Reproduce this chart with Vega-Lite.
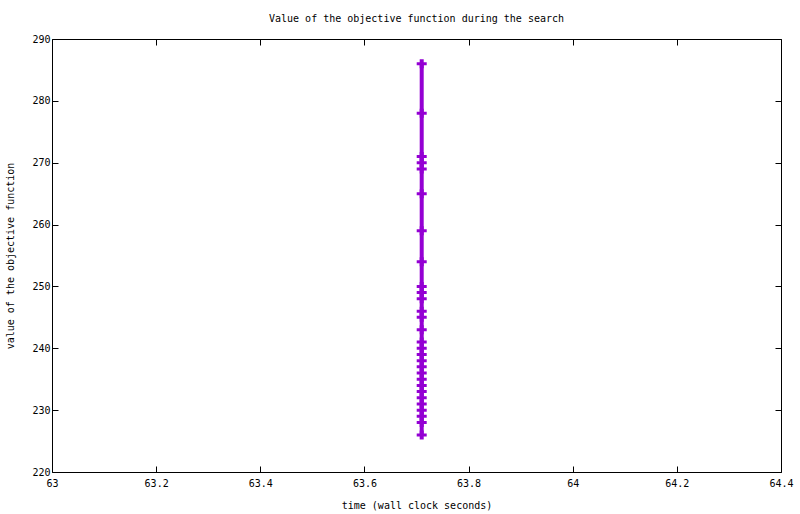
{
  "$schema": "https://vega.github.io/schema/vega-lite/v6.json",
  "width": 729,
  "height": 433,
  "autosize": "none",
  "padding": {"left": 52, "top": 39, "right": 19, "bottom": 42},
  "background": "white",
  "config": {
    "view": {"stroke": null},
    "font": "DejaVu Sans Mono",
    "axis": {
      "grid": false,
      "domainColor": "black",
      "domainWidth": 1,
      "tickColor": "black",
      "tickSize": -6,
      "tickWidth": 1,
      "labelColor": "black",
      "labelFont": "DejaVu Sans Mono",
      "labelFontSize": 10,
      "labelPadding": 8,
      "labelFlush": false,
      "titleColor": "black",
      "titleFont": "DejaVu Sans Mono",
      "titleFontSize": 10,
      "titleFontWeight": "normal"
    }
  },
  "title": {
    "text": "Value of the objective function during the search",
    "font": "DejaVu Sans Mono",
    "fontSize": 10,
    "fontWeight": "normal",
    "color": "black",
    "anchor": "middle",
    "offset": 10
  },
  "data": {
    "values": [
      {"i": 1, "time": 63.71, "value": 286},
      {"i": 2, "time": 63.71, "value": 278},
      {"i": 3, "time": 63.71, "value": 271},
      {"i": 4, "time": 63.71, "value": 270},
      {"i": 5, "time": 63.71, "value": 269},
      {"i": 6, "time": 63.71, "value": 265},
      {"i": 7, "time": 63.71, "value": 259},
      {"i": 8, "time": 63.71, "value": 254},
      {"i": 9, "time": 63.71, "value": 250},
      {"i": 10, "time": 63.71, "value": 249},
      {"i": 11, "time": 63.71, "value": 248},
      {"i": 12, "time": 63.71, "value": 246},
      {"i": 13, "time": 63.71, "value": 245},
      {"i": 14, "time": 63.71, "value": 243},
      {"i": 15, "time": 63.71, "value": 241},
      {"i": 16, "time": 63.71, "value": 240},
      {"i": 17, "time": 63.71, "value": 239},
      {"i": 18, "time": 63.71, "value": 238},
      {"i": 19, "time": 63.71, "value": 237},
      {"i": 20, "time": 63.71, "value": 236},
      {"i": 21, "time": 63.71, "value": 235},
      {"i": 22, "time": 63.71, "value": 234},
      {"i": 23, "time": 63.71, "value": 233},
      {"i": 24, "time": 63.71, "value": 232},
      {"i": 25, "time": 63.71, "value": 231},
      {"i": 26, "time": 63.71, "value": 230},
      {"i": 27, "time": 63.71, "value": 229},
      {"i": 28, "time": 63.71, "value": 228},
      {"i": 29, "time": 63.71, "value": 226}
    ]
  },
  "layer": [
    {
      "mark": {"type": "line", "color": "#9400D3", "strokeWidth": 4},
      "encoding": {
        "x": {
          "field": "time",
          "type": "quantitative",
          "scale": {"domain": [63, 64.4], "nice": false, "zero": false},
          "axis": {
            "orient": "bottom",
            "values": [63, 63.2, 63.4, 63.6, 63.8, 64, 64.2, 64.4],
            "format": "~g",
            "labelPadding": 12,
            "title": "time (wall clock seconds)",
            "titlePadding": 12
          }
        },
        "y": {
          "field": "value",
          "type": "quantitative",
          "scale": {"domain": [220, 290], "nice": false, "zero": false},
          "axis": {
            "orient": "left",
            "values": [220, 230, 240, 250, 260, 270, 280, 290],
            "title": "value of the objective function",
            "titlePadding": 16
          }
        },
        "order": {"field": "i"}
      }
    },
    {
      "mark": {
        "type": "point",
        "shape": "M-1,-0.3H1V0.3H-1Z M-0.4,-0.9H0.4V0.9H-0.4Z",
        "filled": true,
        "size": 100,
        "color": "#9400D3",
        "opacity": 1
      },
      "encoding": {
        "x": {"field": "time", "type": "quantitative", "axis": null},
        "y": {"field": "value", "type": "quantitative", "axis": null}
      }
    },
    {
      "mark": {"type": "point", "opacity": 0},
      "encoding": {
        "x": {
          "field": "time",
          "type": "quantitative",
          "axis": {
            "orient": "top",
            "values": [63, 63.2, 63.4, 63.6, 63.8, 64, 64.2, 64.4],
            "labels": false,
            "title": null
          }
        },
        "y": {
          "field": "value",
          "type": "quantitative",
          "axis": {
            "orient": "right",
            "values": [220, 230, 240, 250, 260, 270, 280, 290],
            "labels": false,
            "title": null
          }
        }
      }
    }
  ],
  "resolve": {"axis": {"x": "independent", "y": "independent"}}
}
